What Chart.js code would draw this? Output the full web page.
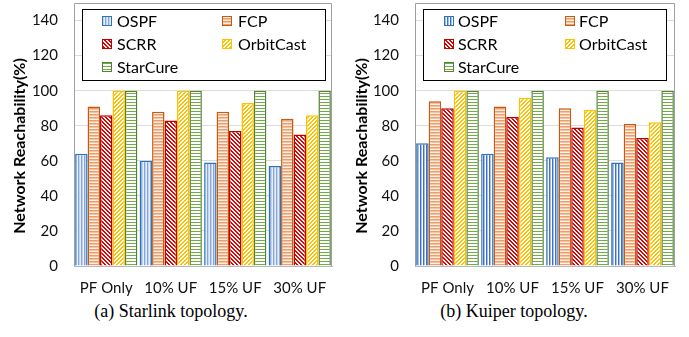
<!DOCTYPE html>
<html><head><meta charset="utf-8">
<script src="https://cdn.jsdelivr.net/npm/chart.js@4.4.0/dist/chart.umd.min.js"></script>
<style>
html,body{margin:0;padding:0;background:#fff;width:689px;height:337px;overflow:hidden}
#c1{position:absolute;left:0;top:0;width:345px;height:300px}
#c2{position:absolute;left:345px;top:0;width:344px;height:300px}
.cap{position:absolute;top:301px;line-height:20px;font-family:"Liberation Serif","DejaVu Serif",serif;font-size:18px;color:#000;text-align:center;white-space:nowrap}
</style></head><body>
<canvas id="c1" width="345" height="300"></canvas>
<canvas id="c2" width="344" height="300"></canvas>
<div class="cap" style="left:0;width:342px">(a) Starlink topology.</div>
<div class="cap" style="left:345px;width:338px">(b) Kuiper topology.</div>
<script>
// ---- data ----
const categories = ['PF Only', '10% UF', '15% UF', '30% UF'];
const seriesNames = ['OSPF', 'FCP', 'SCRR', 'OrbitCast', 'StarCure'];
const yTickValues = [0, 20, 40, 60, 80, 100, 120, 140];
const yAxisTitle = 'Network Reachability(%)';

const starlinkOSPF = [64, 60, 59, 57];
const starlinkFCP = [91, 88, 88, 84];
const starlinkSCRR = [86, 83, 77, 75];
const starlinkOrbitCast = [100, 100, 93, 86];
const starlinkStarCure = [100, 100, 100, 100];

const kuiperOSPF = [70, 64, 62, 59];
const kuiperFCP = [94, 91, 90, 81];
const kuiperSCRR = [90, 85, 79, 73];
const kuiperOrbitCast = [100, 96, 89, 82];
const kuiperStarCure = [100, 100, 100, 100];

// ---- patterns ----
function tile(w, h, fn) {
  const c = document.createElement('canvas');
  c.width = w; c.height = h;
  const x = c.getContext('2d');
  for (let i = 0; i < w; i++) for (let j = 0; j < h; j++) {
    x.fillStyle = fn(i, j); x.fillRect(i, j, 1, 1);
  }
  return x.createPattern(c, 'repeat');
}
const vStripe = cols => tile(cols.length, 2, (i) => cols[i]);
const hStripe = rows => tile(2, rows.length, (i, j) => rows[j]);
const diag = (fg, bg, back, p) => tile(p, p, (i, j) => {
  const v = back ? ((i - j) % p + p) % p : (i + j) % p;
  return v < 2 ? fg : bg;
});

function styles(light) {
  return [
    { bg: vStripe(light ? ['#86a5dc', '#c3d4f0', '#e8eefa'] : ['#3f6fc6', '#a6bde8', '#ffffff']), border: '#2e75b6' },
    { bg: hStripe(['#ec9d6c', '#f5c3a0', '#fdf0e7']), border: '#c55a11' },
    { bg: diag('#e00000', '#ffffff', true, 4), border: '#c00000' },
    { bg: diag('#ffc000', '#ffffff', false, 4), border: '#ffc000' },
    { bg: hStripe(['#70ad47', '#ffffff', '#ffffff']), border: '#548235' }
  ];
}

const FONT = 'Lato, "Open Sans", sans-serif';

const framePlugin = {
  id: 'frame',
  afterDatasetsDraw(chart) {
    const { ctx, chartArea: a } = chart;
    ctx.save();
    ctx.strokeStyle = '#a0a0a0';
    ctx.lineWidth = 1;
    ctx.beginPath();
    ctx.moveTo(a.left + 0.5, a.bottom);
    ctx.lineTo(a.left + 0.5, a.top + 0.5);
    ctx.lineTo(a.right - 0.5, a.top + 0.5);
    ctx.lineTo(a.right - 0.5, a.bottom);
    ctx.stroke();
    ctx.restore();
  }
};

const yTitle = {
  id: 'yTitle',
  afterDraw(chart, args, o) {
    const { ctx } = chart;
    ctx.save();
    ctx.translate(o.x, o.y);
    ctx.rotate(-Math.PI / 2);
    ctx.font = 'bold 16px ' + FONT;
    ctx.fillStyle = '#000';
    ctx.textAlign = 'center';
    ctx.textBaseline = 'middle';
    ctx.fillText(o.text, 0, 0);
    ctx.restore();
  }
};

const boxLegend = {
  id: 'boxLegend',
  afterDraw(chart, args, o) {
    const { ctx } = chart;
    ctx.save();
    ctx.fillStyle = '#fff';
    ctx.fillRect(o.x, o.y, o.w, o.h);
    ctx.strokeStyle = '#000';
    ctx.lineWidth = 1;
    ctx.strokeRect(o.x + 0.5, o.y + 0.5, o.w, o.h);
    ctx.font = '16px ' + FONT;
    ctx.textBaseline = 'middle';
    ctx.fillStyle = '#000';
    chart.data.datasets.forEach((ds, i) => {
      const col = i % 2, row = Math.floor(i / 2);
      const sx = o.x + o.sw[col], tx = o.x + o.tx[col], cy = o.y + o.rows[row];
      ctx.fillStyle = ds.backgroundColor;
      ctx.fillRect(sx, cy - 5, 10, 10);
      ctx.strokeStyle = ds.borderColor;
      ctx.strokeRect(sx + 0.5, cy - 4.5, 9, 9);
      ctx.fillStyle = '#000';
      ctx.fillText(ds.label, tx, cy + 1);
    });
    ctx.restore();
  }
};

function makeChart(id, series, light, yWidth, titleX, rightPad, legendPos) {
  const st = styles(light);
  return new Chart(document.getElementById(id), {
    type: 'bar',
    data: {
      labels: categories,
      datasets: series.map((d, i) => ({
        label: seriesNames[i], data: d,
        backgroundColor: st[i].bg, borderColor: st[i].border,
        borderWidth: 1.5,
        categoryPercentage: 0.965, barPercentage: 1
      }))
    },
    options: {
      responsive: false, animation: false,
      layout: { padding: { left: 0, right: rightPad, top: 3, bottom: 0 } },
      plugins: {
        legend: { display: false }, tooltip: { enabled: false },
        boxLegend: legendPos,
        yTitle: { text: yAxisTitle, x: titleX, y: 146 }
      },
      scales: {
        x: {
          grid: { display: false },
          border: { color: '#b0b8c4', width: 1 },
          ticks: { color: '#111', font: { family: FONT, size: 15 }, padding: 5, maxRotation: 0 },
          afterFit(s) { s.height = 34; s.paddingLeft = 0; s.paddingRight = 0; }
        },
        y: {
          min: 0, max: 150,
          afterBuildTicks(s) { s.ticks = yTickValues.map(v => ({ value: v })); s.min = 0; s.max = 150; },
          grid: { color: '#dcdcdc', drawTicks: false },
          border: { display: false },
          ticks: { color: '#111', font: { family: FONT, size: 15 }, padding: 16 },
          afterFit(s) { s.width = yWidth; s.paddingTop = 0; s.paddingBottom = 0; }
        }
      }
    },
    plugins: [framePlugin, boxLegend, yTitle]
  });
}

makeChart('c1', [starlinkOSPF, starlinkFCP, starlinkSCRR, starlinkOrbitCast, starlinkStarCure],
  true, 74, 20, 13, { x: 82, y: 9, w: 243, h: 71, sw: [20, 140], tx: [35, 156], rows: [12, 35, 58] });
makeChart('c2', [kuiperOSPF, kuiperFCP, kuiperSCRR, kuiperOrbitCast, kuiperStarCure],
  false, 70, 17, 14, { x: 78, y: 9, w: 243, h: 71, sw: [21, 142], tx: [35, 156], rows: [12, 35, 58] });
</script>
</body></html>
